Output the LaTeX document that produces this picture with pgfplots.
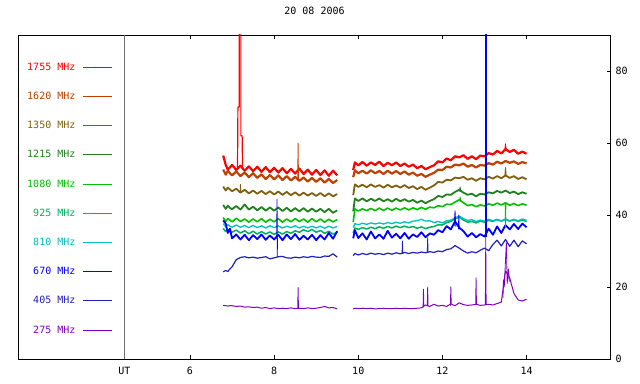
\documentclass[border=0pt]{standalone}
\usepackage{fontspec}
\setmainfont{DejaVu Sans Mono}
\usepackage{pgfplots}
\pgfplotsset{compat=1.18}
\usepackage{pgfplotstable}
\definecolor{c1755}{RGB}{255,0,0}
\definecolor{c1620}{RGB}{192,64,0}
\definecolor{c1350}{RGB}{128,96,16}
\definecolor{c1215}{RGB}{32,128,32}
\definecolor{c1080}{RGB}{0,192,0}
\definecolor{c925}{RGB}{0,176,96}
\definecolor{c810}{RGB}{0,192,192}
\definecolor{c670}{RGB}{0,0,255}
\definecolor{c405}{RGB}{32,32,192}
\definecolor{c275}{RGB}{128,0,192}
\definecolor{utgray}{RGB}{110,110,110}
\pgfplotstableread{
t a b c d e f g h i j
6.79 56.5 52.6 47.9 42.8 39.3 36.3 37.6 38.5 24.2 14.9
6.85 53.9 51.2 46.8 41.7 38.2 35.4 36.7 37.6 24.6 14.8
6.90 52.6 52.3 47.6 42.6 39.0 36.0 37.3 35.0 24.3 14.7
6.95 53.2 51.6 47.1 42.0 38.6 35.7 36.9 36.2 25.0 14.8
7.00 53.9 51.0 46.6 41.6 38.1 35.2 36.6 33.5 25.6 14.8
7.10 52.5 52.1 47.3 42.5 39.1 35.8 37.2 34.6 27.6 14.6
7.20 53.7 50.8 46.2 41.5 38.2 35.0 36.6 33.2 28.2 14.7
7.30 52.3 51.8 47.0 42.9 38.9 35.6 37.1 34.5 28.4 14.4
7.40 53.5 50.5 46.0 41.5 38.0 34.8 36.5 33.0 28.1 14.5
7.50 52.2 51.6 46.8 42.3 38.9 35.5 37.1 34.4 28.3 14.3
7.60 53.4 50.3 45.9 41.3 38.1 34.7 36.5 33.3 28.0 14.4
7.70 52.0 51.3 46.7 42.2 39.0 35.4 37.0 34.6 28.2 14.1
7.80 53.3 50.0 45.8 41.2 38.0 34.7 36.4 33.1 28.4 14.3
7.90 51.9 51.1 46.6 42.1 38.8 35.3 37.0 34.3 27.8 14.0
8.00 53.1 49.9 45.7 41.2 38.1 34.6 36.5 33.2 28.1 14.2
8.10 51.8 51.0 46.5 42.1 39.0 35.3 37.0 34.5 28.4 14.0
8.20 53.0 49.7 45.6 41.1 38.0 34.7 36.4 33.0 28.5 14.1
8.30 51.6 50.8 46.4 42.0 38.9 35.4 36.9 34.6 28.1 14.0
8.40 52.8 49.6 45.5 41.0 38.1 34.9 36.5 33.3 28.0 14.2
8.50 51.5 50.6 46.3 41.9 39.0 35.6 37.0 34.7 28.3 14.0
8.60 52.9 49.5 45.4 41.0 38.2 35.2 36.4 33.1 28.1 14.1
8.70 51.4 50.4 46.2 41.9 38.9 35.9 36.9 34.2 28.4 14.0
8.80 52.6 49.3 45.4 40.9 38.0 35.4 36.4 33.2 28.2 14.2
8.90 51.2 50.3 46.1 41.8 39.0 36.0 36.9 34.5 28.5 14.0
9.00 52.5 49.2 45.3 40.9 38.1 35.2 36.4 33.0 28.3 14.1
9.10 51.1 50.2 46.1 41.7 38.9 35.7 36.9 34.4 28.2 14.3
9.20 52.4 49.0 45.2 40.8 38.0 34.9 36.3 33.2 28.6 14.6
9.30 50.9 50.0 46.0 41.7 38.8 35.5 36.9 35.0 28.5 14.2
9.40 52.3 48.9 45.2 40.6 38.1 34.7 36.4 33.4 29.2 14.3
9.50 51.0 49.7 45.8 41.3 38.7 35.2 36.8 35.5 28.3 13.9
9.70 nan nan nan nan nan nan nan nan nan nan
9.88 52.5 50.5 45.5 41.0 38.0 35.0 36.5 33.5 28.7 13.9
9.92 54.6 52.4 48.5 44.6 41.7 36.4 37.6 35.8 29.3 14.1
10.0 53.8 51.6 47.8 43.9 41.1 36.0 37.3 33.6 28.9 14.0
10.1 54.7 52.3 48.4 44.6 41.7 36.5 37.7 34.9 29.3 14.1
10.2 53.7 51.5 47.7 43.8 41.2 36.1 37.4 33.2 29.0 14.0
10.3 54.6 52.4 48.5 44.5 41.8 36.6 37.8 35.4 29.4 14.1
10.4 53.9 51.6 47.8 43.9 41.2 36.2 37.5 33.5 29.1 13.9
10.5 54.8 52.2 48.3 44.6 41.9 36.7 37.8 34.6 29.3 14.0
10.6 53.6 51.4 47.6 43.8 41.3 36.3 37.5 33.4 29.0 14.1
10.7 54.5 52.3 48.4 44.4 41.9 36.8 37.9 35.6 29.4 14.0
10.8 53.8 51.5 47.7 43.7 41.3 36.4 37.6 33.7 29.1 14.0
10.9 54.6 52.2 48.2 44.5 41.9 36.9 38.0 34.8 29.5 14.1
11.0 53.6 51.4 47.6 43.8 41.4 36.5 37.7 33.5 29.2 14.0
11.1 54.3 52.1 48.3 44.4 42.0 36.9 38.1 35.0 29.6 14.1
11.2 53.4 51.2 47.5 43.7 41.4 36.5 37.8 33.4 29.3 14.0
11.3 54.0 51.8 48.0 44.2 42.0 36.8 38.3 34.6 29.6 14.0
11.4 53.0 50.9 47.2 43.4 41.5 36.3 38.4 33.9 29.4 14.1
11.5 53.6 51.4 47.8 44.0 42.1 36.7 38.8 35.2 29.7 14.2
11.6 52.7 50.6 47.0 43.3 41.6 36.2 38.3 33.8 29.5 15.0
11.7 53.3 51.2 47.6 43.9 42.2 36.6 38.4 34.9 29.8 14.6
11.8 53.8 51.7 48.2 44.4 42.0 36.8 37.9 34.5 29.6 15.2
11.9 54.9 52.6 49.2 45.3 42.6 37.3 38.2 35.8 30.0 14.7
12.0 54.6 52.5 49.0 45.0 42.3 37.2 37.8 35.2 29.8 14.9
12.1 55.7 53.4 49.8 45.7 43.0 37.9 38.4 36.9 30.4 14.6
12.2 55.2 53.2 49.6 45.6 42.9 38.2 38.6 36.0 30.6 15.3
12.3 56.3 54.0 50.4 46.4 43.6 38.9 39.2 38.2 31.5 14.8
12.4 56.0 53.8 50.2 47.0 44.2 39.4 39.7 36.5 30.8 15.6
12.5 56.6 54.3 50.6 46.2 43.4 38.6 39.0 35.5 30.0 15.1
12.6 55.6 53.4 49.8 45.6 42.6 38.0 38.5 34.0 29.4 14.9
12.7 56.3 53.9 50.2 45.9 42.9 38.2 38.7 35.0 29.8 15.0
12.8 55.5 53.2 49.5 45.2 42.3 37.8 38.2 33.8 29.5 15.2
12.9 56.5 53.9 50.2 45.9 42.8 38.3 38.6 34.7 30.2 14.9
13.0 56.3 53.7 49.9 45.7 42.5 38.0 38.3 34.0 30.8 15.0
13.1 57.2 54.4 50.6 46.3 43.1 38.5 38.8 36.2 30.1 15.2
13.2 56.8 54.0 50.1 46.0 42.7 38.2 38.4 34.5 31.8 15.0
13.3 57.8 54.8 50.8 46.7 43.3 38.7 38.8 36.8 33.0 15.4
13.4 57.1 54.3 50.2 46.2 42.8 38.3 38.4 35.0 31.4 15.8
13.5 58.3 55.0 51.0 46.8 43.4 38.8 38.9 37.2 33.2 24.5
13.6 57.5 54.5 50.3 46.1 42.7 38.3 38.4 36.0 31.3 22.5
13.7 58.1 54.9 50.8 46.5 43.2 38.7 38.8 37.5 33.0 18.2
13.8 57.0 54.2 50.0 45.8 42.6 38.2 38.4 36.1 31.2 16.4
13.9 57.6 54.7 50.5 46.3 43.1 38.6 38.9 37.6 32.8 16.1
14.0 57.0 54.3 49.9 45.9 42.7 38.2 38.5 36.6 32.0 16.6
}\data
\begin{document}
\begin{tikzpicture}
\begin{axis}[
  name=ax, scale only axis, width=592.4pt, height=324pt,
  xmin=1.92, xmax=16, ymin=0, ymax=90,
  unbounded coords=jump,
  xtick={6,8,10,12,14}, ytick={0,20,40,60,80},
  ytick pos=right, yticklabel pos=right,
  tick align=inside, major tick length=4pt,
  axis line style={line width=0.8pt},
  every tick/.style={black, line width=0.8pt},
  /pgf/number format/assume math mode=true,
  tick label style={font=\fontsize{10}{12}\selectfont},
  xticklabel style={anchor=base, yshift=-16pt, inner sep=0pt},
  yticklabel style={anchor=west, xshift=4.7pt, inner sep=0pt},
  extra x ticks={4.44}, extra x tick labels={UT},
  extra x tick style={major tick length=0pt, grid=major,
     major grid style={draw=utgray, line width=0.8pt}},
  title={20 08 2006},
  title style={at={(0.5,1)}, anchor=base, yshift=14pt, font=\fontsize{10}{12}\selectfont},
  legend style={at={(0.1585,0.4948)}, anchor=east, draw=none, fill=none,
     inner sep=0pt, outer sep=0pt, column sep=7pt, row sep=0pt,
     font=\fontsize{10}{12}\selectfont,
     nodes={inner sep=0pt, minimum height=29.2pt}},
  legend plot pos=right, legend cell align=right,
  legend image code/.code={\draw[#1, line width=0.8pt] (0pt,0pt) -- (29pt,0pt);},
  every axis plot/.append style={line width=0.8pt, line join=round},
]
\addplot[c1755, line width=2.2pt] table[x=t,y=a]{\data}; \addlegendentry{\textcolor{c1755}{1755 MHz}}
\addplot[c1620, line width=2.2pt] table[x=t,y=b]{\data}; \addlegendentry{\textcolor{c1620}{1620 MHz}}
\addplot[c1350, line width=1.8pt] table[x=t,y=c]{\data}; \addlegendentry{\textcolor{c1350}{1350 MHz}}
\addplot[c1215, line width=1.8pt] table[x=t,y=d]{\data}; \addlegendentry{\textcolor{c1215}{1215 MHz}}
\addplot[c1080, line width=1.6pt] table[x=t,y=e]{\data}; \addlegendentry{\textcolor{c1080}{1080 MHz}}
\addplot[c925, line width=1.5pt] table[x=t,y=f]{\data}; \addlegendentry{\textcolor{c925}{925 MHz}}
\addplot[c810, line width=1.3pt] table[x=t,y=g]{\data}; \addlegendentry{\textcolor{c810}{810 MHz}}
\addplot[c670, line width=1.8pt] table[x=t,y=h]{\data}; \addlegendentry{\textcolor{c670}{670 MHz}}
\addplot[c405, line width=1.2pt] table[x=t,y=i]{\data}; \addlegendentry{\textcolor{c405}{405 MHz}}
\addplot[c275, line width=1.0pt] table[x=t,y=j]{\data}; \addlegendentry{\textcolor{c275}{275 MHz}}
% spikes
\addplot[c1755, forget plot, line width=1.2pt] coordinates {(7.13,52.8)(7.14,70)(7.17,70)(7.17,95)(7.21,95)(7.21,62)(7.24,62)(7.25,52.6)};
\addplot[c1755, forget plot] coordinates {(13.48,57.8)(13.5,59.8)(13.52,57.8)};
\addplot[c1620, forget plot] coordinates {(8.56,50.2)(8.57,60)(8.58,50.0)};
\addplot[c1350, forget plot] coordinates {(7.19,46.3)(7.2,48.5)(7.21,46.3)};
\addplot[c1350, forget plot] coordinates {(13.48,50.6)(13.5,53.2)(13.52,50.6)};
\addplot[c1215, forget plot] coordinates {(12.40,46.5)(12.42,47.8)(12.44,46.4)};
\addplot[c1080, forget plot] coordinates {(12.40,43.8)(12.42,45.0)(12.44,43.8)};
\addplot[c1080, forget plot] coordinates {(13.49,43.2)(13.5,36.5)(13.51,43.0)};
\addplot[c670, forget plot] coordinates {(8.06,33.4)(8.07,44.4)(8.075,28.5)(8.08,33.5)};
\addplot[c670, forget plot] coordinates {(12.28,37)(12.3,41.2)(12.32,36.8)};
\addplot[c670, forget plot] coordinates {(12.38,36)(12.39,40)(12.40,36)};
\addplot[c405, forget plot] coordinates {(11.04,29.3)(11.05,32.8)(11.06,29.3)};
\addplot[c405, forget plot] coordinates {(11.64,29.6)(11.65,33.7)(11.66,29.6)};
\addplot[c275, forget plot] coordinates {(8.56,14.1)(8.57,19.9)(8.58,14.0)};
\addplot[c275, forget plot] coordinates {(11.54,14.2)(11.55,19.4)(11.56,14.8)};
\addplot[c275, forget plot] coordinates {(11.64,14.8)(11.65,20.0)(11.66,14.7)};
\addplot[c275, forget plot] coordinates {(12.19,14.8)(12.2,20.1)(12.21,15.2)};
\addplot[c275, forget plot] coordinates {(12.79,15.1)(12.8,22.6)(12.81,15.1)};
\addplot[c275, forget plot] coordinates {(13.02,15.0)(13.03,34)(13.04,15.0)};
\addplot[c275, forget plot] coordinates {(13.44,17)(13.45,22)(13.47,20)(13.52,32.3)(13.54,21)(13.57,25)(13.59,21.5)};
\addplot[c670, forget plot, line width=2.4pt] coordinates {(13.03,34)(13.03,95)};
\end{axis}
\pgfresetboundingbox
\path[use as bounding box] ([shift={(-18.3pt,-25pt)}]ax.south west) rectangle ([shift={(29.3pt,35pt)}]ax.north east);
\end{tikzpicture}
\end{document}
